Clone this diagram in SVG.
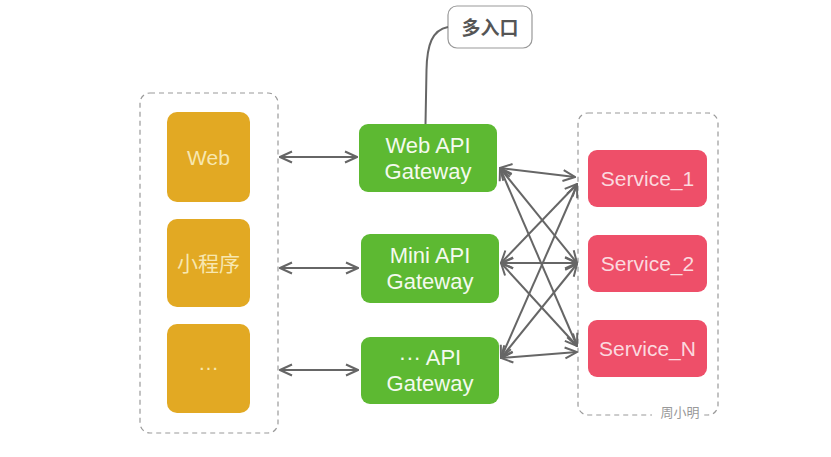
<svg xmlns="http://www.w3.org/2000/svg" width="831" height="457" viewBox="0 0 831 457">
<style>
.grp{fill:#fff;stroke:#9a9a9a;stroke-width:1.2;stroke-dasharray:5 4}
.cli{fill:#E2A923}
.gw{fill:#5DB932}
.svc{fill:#EE4F69}
.t{font-family:"Liberation Sans","Noto Sans CJK SC",sans-serif;text-anchor:middle}
.ct{fill:#F7E7B0;font-size:21px}
.gt{fill:#F4FAEE;font-size:22px}
.st{fill:#FBD9DF;font-size:21px}
.con{stroke:#666;stroke-width:2;fill:none;marker-start:url(#ah);marker-end:url(#ah)}
</style>
<defs>
<marker id="ah" viewBox="0 0 14 14" refX="13" refY="7" markerWidth="14" markerHeight="14" markerUnits="userSpaceOnUse" orient="auto-start-reverse">
<path d="M1,1.5 L13,7 L1,12.5" fill="none" stroke="#666" stroke-width="2"/>
</marker>
</defs>
<rect width="831" height="457" fill="#fff"/>
<g id="client-group"><rect class="grp" x="140" y="93" width="138" height="340" rx="10"/></g>
<g id="service-group"><rect class="grp" x="578" y="113" width="140" height="302" rx="10"/>
<rect x="652" y="405" width="52" height="16" fill="#fff"/>
<text x="680" y="417" class="t" font-size="13" fill="#999">周小明</text></g>
<g id="web"><rect class="cli" x="167" y="112" width="83" height="90" rx="10"/><text class="t ct" x="208.5" y="165">Web</text></g>
<g id="miniprogram"><rect class="cli" x="167" y="219" width="83" height="88" rx="10"/><text class="t ct" x="208.5" y="271" font-size="20">小程序</text></g>
<g id="other-client"><rect class="cli" x="167" y="324" width="83" height="89" rx="10"/><text class="t ct" x="208.5" y="370" font-size="16">…</text></g>
<g id="web-api-gw"><rect class="gw" x="359" y="124" width="138" height="68" rx="9"/><text class="t gt" x="428" y="153">Web API</text><text class="t gt" x="428" y="179">Gateway</text></g>
<g id="mini-api-gw"><rect class="gw" x="361" y="234" width="138" height="69" rx="9"/><text class="t gt" x="430" y="263">Mini API</text><text class="t gt" x="430" y="289">Gateway</text></g>
<g id="other-api-gw"><rect class="gw" x="361" y="337" width="138" height="67" rx="9"/><text class="t gt" x="430" y="365">··· API</text><text class="t gt" x="430" y="391">Gateway</text></g>
<g id="service1"><rect class="svc" x="588" y="150" width="119" height="57" rx="9"/><text class="t st" x="647.5" y="186">Service_1</text></g>
<g id="service2"><rect class="svc" x="588" y="235" width="119" height="57" rx="9"/><text class="t st" x="647.5" y="271">Service_2</text></g>
<g id="serviceN"><rect class="svc" x="588" y="320" width="119" height="57" rx="9"/><text class="t st" x="647.5" y="356">Service_N</text></g>
<g id="callout"><rect x="448" y="6" width="84" height="42" rx="9" fill="#fff" stroke="#999" stroke-width="1.2"/><text class="t" x="490" y="35" font-size="19" fill="#555" font-weight="bold">多入口</text></g>
<g id="connectors">
<path d="M448,27 C432,30 427,45 426.5,70 L425.5,124" fill="none" stroke="#666" stroke-width="2"/>
<line class="con" x1="280" y1="157" x2="357" y2="157"/>
<line class="con" x1="280" y1="268" x2="358" y2="268"/>
<line class="con" x1="280" y1="370" x2="358" y2="370"/>
<line class="con" x1="500" y1="168" x2="575" y2="177"/>
<line class="con" x1="500" y1="168" x2="577" y2="263"/>
<line class="con" x1="500" y1="168" x2="577" y2="346"/>
<line class="con" x1="501" y1="263" x2="577" y2="184"/>
<line class="con" x1="501" y1="263" x2="577" y2="263"/>
<line class="con" x1="501" y1="263" x2="577" y2="346"/>
<line class="con" x1="501" y1="358" x2="577" y2="185"/>
<line class="con" x1="501" y1="358" x2="577" y2="264"/>
<line class="con" x1="501" y1="358" x2="577" y2="352"/>
</g>
</svg>
